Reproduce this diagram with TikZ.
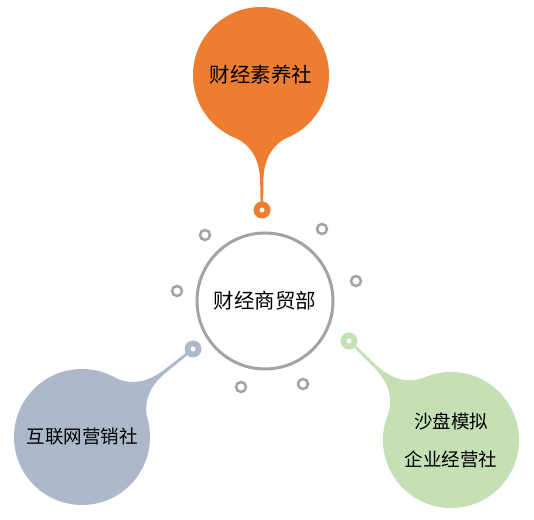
\documentclass[tikz,border=0pt]{standalone}
\usepackage{fontspec}
\newfontfamily\cjk{Noto Sans CJK SC}
\definecolor{orng}{HTML}{ED7D31}
\definecolor{bluegr}{HTML}{ADB9CA}
\definecolor{grn}{HTML}{C5E0B4}
\definecolor{ringgray}{HTML}{A3A3A3}
\tikzset{
  bubble/.style={circle, minimum size=136pt, inner sep=0pt, fill=#1, text=black, font=\cjk\fontsize{18.5}{24}\selectfont, align=center},
  hub/.style={circle, minimum size=136pt, inner sep=0pt, draw=ringgray, line width=3pt, fill=white, font=\cjk\fontsize{20.5}{24}\selectfont},
  ring/.style={circle, minimum size=10pt, inner sep=0pt, draw=ringgray, line width=2.5pt},
  dropnode/.style={circle, minimum size=17pt, inner sep=0pt, fill=#1},
  hole/.style={circle, minimum size=5pt, inner sep=0pt, fill=white},
}
\newcommand{\tailshape}[2]{% #1 colour, #2 length
  \fill[#1] (-25,-63) .. controls (-9,-72) and (-2.5,-85) .. (-1.6,-105) -- (-1.2,-#2) -- (1.2,-#2) -- (1.6,-105) .. controls (2.5,-85) and (9,-72) .. (25,-63) -- cycle;
}
\begin{document}
\begin{tikzpicture}[x=1pt,y=1pt]
\useasboundingbox (0,0) rectangle (534,519);
% tails
\begin{scope}[shift={(261,444)},rotate=0.4]
  \tailshape{orng}{135}
\end{scope}
\begin{scope}[shift={(82,82)},rotate=128.4]
  \tailshape{bluegr}{141.6}
\end{scope}
\begin{scope}[shift={(451,79)},rotate=-134.2]
  \tailshape{grn}{142.1}
\end{scope}
% bubbles
\node[bubble=orng, font=\cjk\fontsize{20.5}{24}\selectfont] (fin) at (261,444) {财经素养社};
\node[bubble=bluegr] (net) at (82,82) {互联网营销社};
\node[bubble=grn] (sand) at (451,79) {沙盘模拟\\[14pt]企业经营社};
% drops
\node[dropnode=orng] (d1) at (262,309) {};
\node[hole] at (d1) {};
\node[dropnode=bluegr] (d2) at (193,170) {};
\node[hole] at (d2) {};
\node[dropnode=grn] (d3) at (349,178) {};
\node[hole] at (d3) {};
% hub
\node[hub] (hub) at (265,218) {财经商贸部};
% rings
\node[ring] (r1) at (205,284) {};
\node[ring] (r2) at (322,290) {};
\node[ring] (r3) at (356,238) {};
\node[ring] (r4) at (177,228) {};
\node[ring] (r5) at (241,132) {};
\node[ring] (r6) at (303,135) {};
\end{tikzpicture}
\end{document}
